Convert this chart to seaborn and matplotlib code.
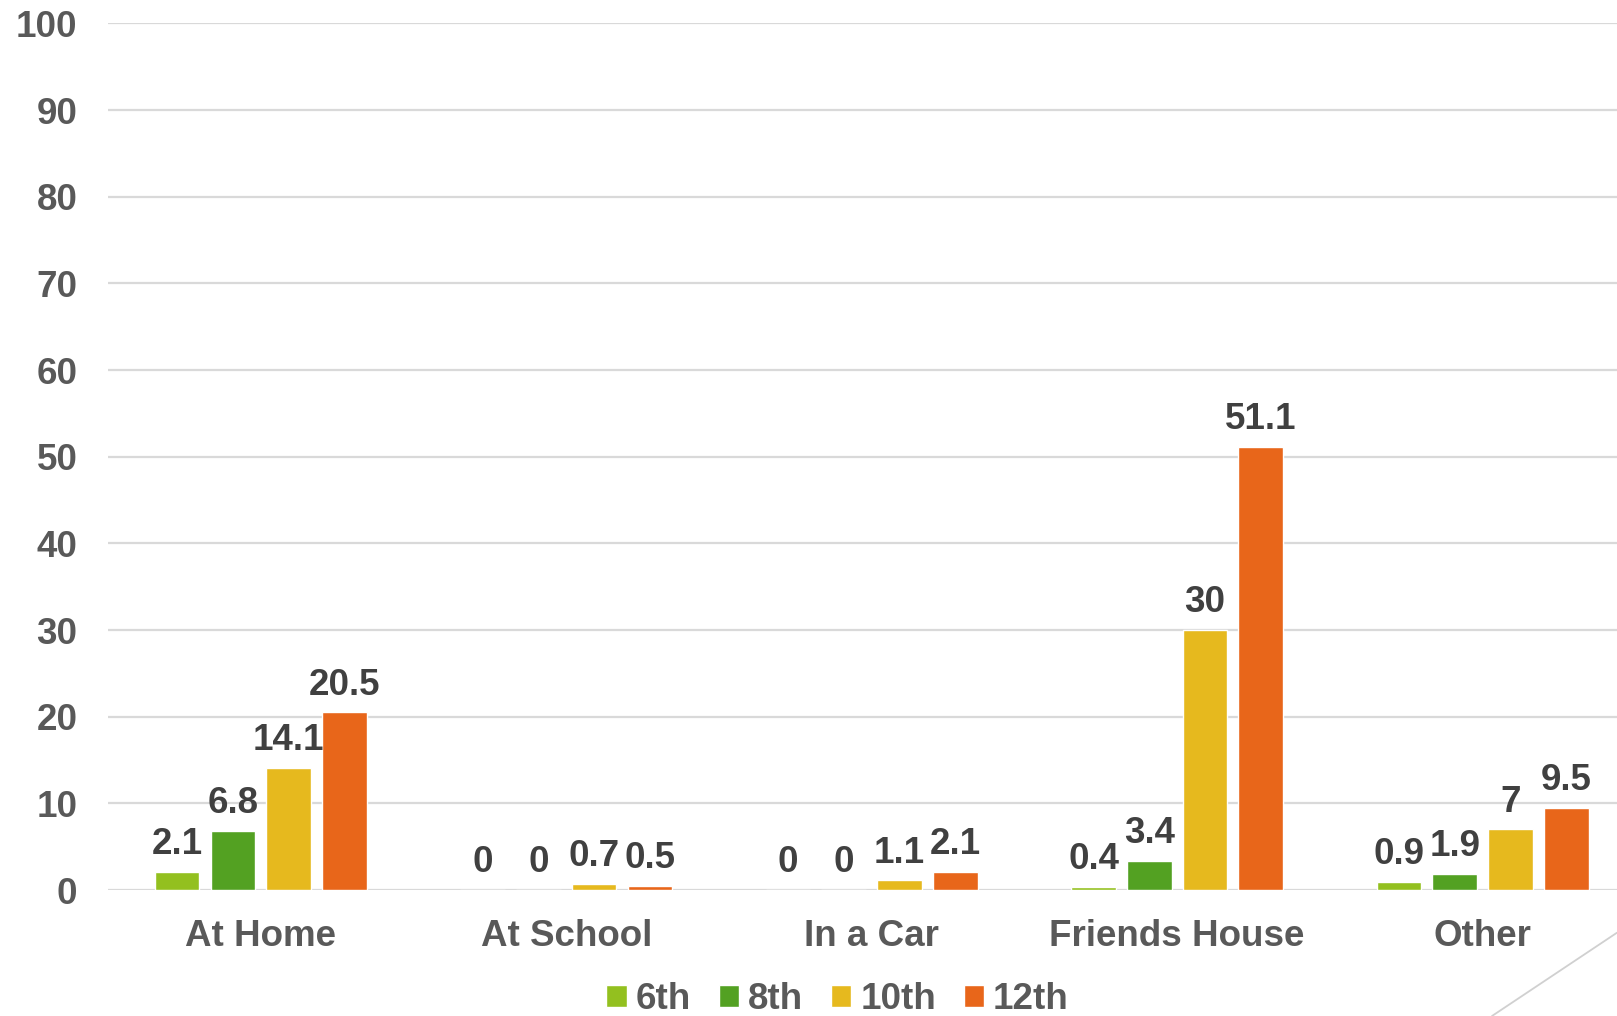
import pandas as pd
import matplotlib.pyplot as plt
import seaborn as sns
from matplotlib.lines import Line2D
from matplotlib.patches import Patch

# chart data
places = ['At Home', 'At School', 'In a Car', 'Friends House', 'Other']
grades = ['6th', '8th', '10th', '12th']
g6 = [2.1, 0, 0, 0.4, 0.9]
g8 = [6.8, 0, 0, 3.4, 1.9]
g10 = [14.1, 0.7, 1.1, 30, 7]
g12 = [20.5, 0.5, 2.1, 51.1, 9.5]
colors = ['#93C01F', '#53A122', '#E6B91E', '#E8661A']

rows = []
for grade, vals in zip(grades, [g6, g8, g10, g12]):
    for place, v in zip(places, vals):
        rows.append({'place': place, 'grade': grade, 'value': v})
df = pd.DataFrame(rows)

sns.set_style('white')
plt.rcParams['font.family'] = ['Liberation Sans', 'DejaVu Sans']
plt.rcParams['font.weight'] = 'bold'

fig = plt.figure(figsize=(16.17, 10.16), dpi=100)
ax = fig.add_axes([0.0668, 0.124, 0.9332, 0.853])

sns.barplot(data=df, x='place', y='value', hue='grade', order=places,
            hue_order=grades, palette=colors, width=0.73, gap=0.2,
            saturation=1, ax=ax, legend=False)

for cont in ax.containers:
    ax.bar_label(cont, fmt='%g', padding=7, fontsize=26.5,
                 fontweight='bold', color='#404040')

ax.set_ylim(0, 100)
ax.set_yticks(range(0, 101, 10))
ax.set_xlim(-0.5, 4.44)
ax.yaxis.grid(True, color='#D9D9D9', linewidth=1.6)
ax.set_axisbelow(True)
sns.despine(ax=ax, left=True, bottom=True)
ax.tick_params(axis='y', length=0, pad=22, labelsize=26.5, labelcolor='#595959')
ax.tick_params(axis='x', length=0, pad=21, labelsize=26.5, labelcolor='#595959')
for lbl in ax.get_xticklabels() + ax.get_yticklabels():
    lbl.set_fontweight('bold')
ax.set_xlabel('')
ax.set_ylabel('')

handles = [Patch(facecolor=c, label=g) for c, g in zip(colors, grades)]
leg = fig.legend(handles=handles, loc='center', bbox_to_anchor=(0.518, 0.0165),
                 ncol=4, frameon=False, fontsize=26.5, handlelength=0.55,
                 handleheight=0.55, handletextpad=0.25, columnspacing=0.75,
                 borderpad=0)
for t in leg.get_texts():
    t.set_color('#595959')
    t.set_fontweight('bold')

# thin diagonal stroke in the lower right corner
fig.add_artist(Line2D([0.9227, 1.0], [0.0, 0.082], transform=fig.transFigure,
                      color='#D0D0D0', linewidth=1.3))

fig.savefig('out.png', dpi=100)
